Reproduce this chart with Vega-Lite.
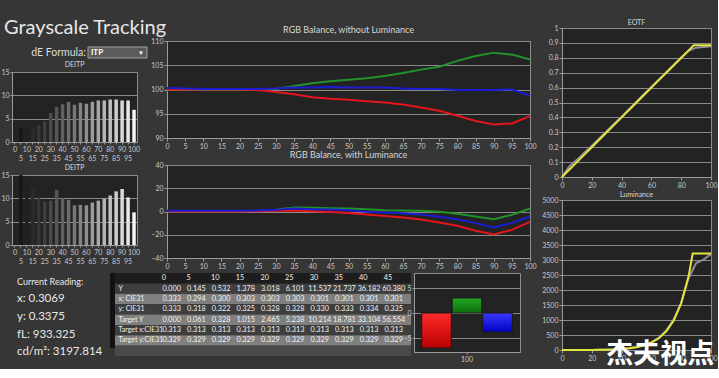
{
"$schema": "https://vega.github.io/schema/vega-lite/v6.json",
"background": "#363636",
"padding": {"left": 0, "top": 0, "right": 0, "bottom": 0},
"config": {
  "font": "Lato",
  "view": {"fill": "#232323", "stroke": "#8c8c8c", "strokeWidth": 1},
  "axis": {"labelColor": "#c8c8c8", "labelFontSize": 7, "labelFont": "Lato", "domainColor": "#9a9a9a", "tickColor": "#9a9a9a", "tickSize": 3, "gridColor": "#8a8a8a", "gridOpacity": 1, "gridWidth": 1, "labelPadding": 1},
  "axisX": {"labelAngle": 0},
  "title": {"color": "#d8d8d8", "fontSize": 8, "fontWeight": "normal", "font": "Lato", "offset": 3},
  "text": {"font": "Lato"}
},
"datasets": {
  "de1": [{"level":0,"de":0},{"level":5,"de":3.0},{"level":10,"de":2.9},{"level":15,"de":2.9},{"level":20,"de":3.6},{"level":25,"de":4.4},{"level":30,"de":6.2},{"level":35,"de":7.5},{"level":40,"de":8.1},{"level":45,"de":8.6},{"level":50,"de":8.0},{"level":55,"de":8.4},{"level":60,"de":8.2},{"level":65,"de":8.6},{"level":70,"de":8.9},{"level":75,"de":8.9},{"level":80,"de":9.1},{"level":85,"de":9.1},{"level":90,"de":8.9},{"level":95,"de":8.9},{"level":100,"de":6.9}],
  "de2": [{"level":0,"de":0},{"level":5,"de":15},{"level":10,"de":14.7},{"level":15,"de":12.1},{"level":20,"de":10.0},{"level":25,"de":9.3},{"level":30,"de":9.5},{"level":35,"de":11.8},{"level":40,"de":10.0},{"level":45,"de":9.7},{"level":50,"de":8.5},{"level":55,"de":8.6},{"level":60,"de":8.5},{"level":65,"de":9.1},{"level":70,"de":9.5},{"level":75,"de":9.9},{"level":80,"de":10.6},{"level":85,"de":11.5},{"level":90,"de":12.0},{"level":95,"de":10.2},{"level":100,"de":7.0}],
  "rgb1": [
    {"level":0,"ch":"G","v":100},{"level":5,"ch":"G","v":100},{"level":10,"ch":"G","v":100},{"level":15,"ch":"G","v":100},{"level":20,"ch":"G","v":100},{"level":25,"ch":"G","v":100},{"level":30,"ch":"G","v":100.1},{"level":35,"ch":"G","v":100.7},{"level":40,"ch":"G","v":101.3},{"level":45,"ch":"G","v":101.7},{"level":50,"ch":"G","v":102.0},{"level":55,"ch":"G","v":102.3},{"level":60,"ch":"G","v":102.8},{"level":65,"ch":"G","v":103.4},{"level":70,"ch":"G","v":104.1},{"level":75,"ch":"G","v":104.7},{"level":80,"ch":"G","v":105.9},{"level":85,"ch":"G","v":106.9},{"level":90,"ch":"G","v":107.6},{"level":95,"ch":"G","v":107.2},{"level":100,"ch":"G","v":106.2},
    {"level":0,"ch":"R","v":100},{"level":5,"ch":"R","v":100},{"level":10,"ch":"R","v":100},{"level":15,"ch":"R","v":100},{"level":20,"ch":"R","v":100},{"level":25,"ch":"R","v":99.9},{"level":30,"ch":"R","v":99.5},{"level":35,"ch":"R","v":99.0},{"level":40,"ch":"R","v":98.4},{"level":45,"ch":"R","v":98.1},{"level":50,"ch":"R","v":97.9},{"level":55,"ch":"R","v":97.6},{"level":60,"ch":"R","v":97.3},{"level":65,"ch":"R","v":96.9},{"level":70,"ch":"R","v":96.3},{"level":75,"ch":"R","v":95.6},{"level":80,"ch":"R","v":94.6},{"level":85,"ch":"R","v":93.5},{"level":90,"ch":"R","v":92.8},{"level":95,"ch":"R","v":93.0},{"level":100,"ch":"R","v":94.5},
    {"level":0,"ch":"B","v":100.3},{"level":5,"ch":"B","v":100.2},{"level":10,"ch":"B","v":100.1},{"level":15,"ch":"B","v":100.1},{"level":20,"ch":"B","v":100.1},{"level":25,"ch":"B","v":100.1},{"level":30,"ch":"B","v":100.2},{"level":35,"ch":"B","v":100.4},{"level":40,"ch":"B","v":100.4},{"level":45,"ch":"B","v":100.5},{"level":50,"ch":"B","v":100.4},{"level":55,"ch":"B","v":100.4},{"level":60,"ch":"B","v":100.4},{"level":65,"ch":"B","v":100.2},{"level":70,"ch":"B","v":100.1},{"level":75,"ch":"B","v":100.1},{"level":80,"ch":"B","v":99.9},{"level":85,"ch":"B","v":99.9},{"level":90,"ch":"B","v":99.9},{"level":95,"ch":"B","v":100.0},{"level":100,"ch":"B","v":98.7}
  ],
  "rgb2": [
    {"level":0,"ch":"G","v":0.3},{"level":5,"ch":"G","v":0.3},{"level":10,"ch":"G","v":0.3},{"level":15,"ch":"G","v":0.3},{"level":20,"ch":"G","v":0.4},{"level":25,"ch":"G","v":0.5},{"level":30,"ch":"G","v":1.5},{"level":35,"ch":"G","v":3.4},{"level":40,"ch":"G","v":3.2},{"level":45,"ch":"G","v":2.9},{"level":50,"ch":"G","v":2.6},{"level":55,"ch":"G","v":2.0},{"level":60,"ch":"G","v":1.1},{"level":65,"ch":"G","v":0.9},{"level":70,"ch":"G","v":0.6},{"level":75,"ch":"G","v":-0.3},{"level":80,"ch":"G","v":-2.0},{"level":85,"ch":"G","v":-4.3},{"level":90,"ch":"G","v":-6.6},{"level":95,"ch":"G","v":-2.9},{"level":100,"ch":"G","v":2.6},
    {"level":0,"ch":"R","v":0},{"level":5,"ch":"R","v":0},{"level":10,"ch":"R","v":0},{"level":15,"ch":"R","v":0},{"level":20,"ch":"R","v":0},{"level":25,"ch":"R","v":0.3},{"level":30,"ch":"R","v":0.6},{"level":35,"ch":"R","v":0.9},{"level":40,"ch":"R","v":0.3},{"level":45,"ch":"R","v":-0.5},{"level":50,"ch":"R","v":-1.3},{"level":55,"ch":"R","v":-2.6},{"level":60,"ch":"R","v":-3.8},{"level":65,"ch":"R","v":-5.2},{"level":70,"ch":"R","v":-6.9},{"level":75,"ch":"R","v":-9.5},{"level":80,"ch":"R","v":-12.3},{"level":85,"ch":"R","v":-16.6},{"level":90,"ch":"R","v":-19.8},{"level":95,"ch":"R","v":-15.8},{"level":100,"ch":"R","v":-8.9},
    {"level":0,"ch":"B","v":0.6},{"level":5,"ch":"B","v":0.6},{"level":10,"ch":"B","v":0.6},{"level":15,"ch":"B","v":0.6},{"level":20,"ch":"B","v":0.6},{"level":25,"ch":"B","v":0.8},{"level":30,"ch":"B","v":1.4},{"level":35,"ch":"B","v":2.6},{"level":40,"ch":"B","v":2.0},{"level":45,"ch":"B","v":1.7},{"level":50,"ch":"B","v":1.1},{"level":55,"ch":"B","v":-0.3},{"level":60,"ch":"B","v":-0.9},{"level":65,"ch":"B","v":-1.4},{"level":70,"ch":"B","v":-2.6},{"level":75,"ch":"B","v":-4.6},{"level":80,"ch":"B","v":-6.6},{"level":85,"ch":"B","v":-10.0},{"level":90,"ch":"B","v":-13.8},{"level":95,"ch":"B","v":-10.0},{"level":100,"ch":"B","v":-4.3}
  ],
  "eotf": [
    {"level":0,"s":"meas","v":0},{"level":5,"s":"meas","v":0.072},{"level":10,"s":"meas","v":0.115},{"level":15,"s":"meas","v":0.163},{"level":20,"s":"meas","v":0.21},{"level":25,"s":"meas","v":0.258},{"level":30,"s":"meas","v":0.307},{"level":35,"s":"meas","v":0.357},{"level":40,"s":"meas","v":0.405},{"level":45,"s":"meas","v":0.455},{"level":50,"s":"meas","v":0.505},{"level":55,"s":"meas","v":0.555},{"level":60,"s":"meas","v":0.605},{"level":65,"s":"meas","v":0.654},{"level":70,"s":"meas","v":0.703},{"level":75,"s":"meas","v":0.752},{"level":80,"s":"meas","v":0.8},{"level":85,"s":"meas","v":0.846},{"level":90,"s":"meas","v":0.868},{"level":95,"s":"meas","v":0.873},{"level":100,"s":"meas","v":0.878},
    {"level":0,"s":"tgt","v":0},{"level":5,"s":"tgt","v":0.05},{"level":10,"s":"tgt","v":0.1},{"level":15,"s":"tgt","v":0.15},{"level":20,"s":"tgt","v":0.2},{"level":25,"s":"tgt","v":0.25},{"level":30,"s":"tgt","v":0.3},{"level":35,"s":"tgt","v":0.35},{"level":40,"s":"tgt","v":0.4},{"level":45,"s":"tgt","v":0.45},{"level":50,"s":"tgt","v":0.5},{"level":55,"s":"tgt","v":0.55},{"level":60,"s":"tgt","v":0.6},{"level":65,"s":"tgt","v":0.65},{"level":70,"s":"tgt","v":0.7},{"level":75,"s":"tgt","v":0.75},{"level":80,"s":"tgt","v":0.8},{"level":85,"s":"tgt","v":0.85},{"level":88.4,"s":"tgt","v":0.884},{"level":90,"s":"tgt","v":0.884},{"level":95,"s":"tgt","v":0.884},{"level":100,"s":"tgt","v":0.884}
  ],
  "lum": [
    {"level":0,"s":"meas","v":0},{"level":5,"s":"meas","v":0.145},{"level":10,"s":"meas","v":0.532},{"level":15,"s":"meas","v":1.378},{"level":20,"s":"meas","v":3.018},{"level":25,"s":"meas","v":6.101},{"level":30,"s":"meas","v":11.537},{"level":35,"s":"meas","v":21.737},{"level":40,"s":"meas","v":36.182},{"level":45,"s":"meas","v":60.38},{"level":50,"s":"meas","v":98},{"level":55,"s":"meas","v":161},{"level":60,"s":"meas","v":258},{"level":65,"s":"meas","v":412},{"level":70,"s":"meas","v":650},{"level":75,"s":"meas","v":1020},{"level":80,"s":"meas","v":1580},{"level":85,"s":"meas","v":2400},{"level":90,"s":"meas","v":2900},{"level":95,"s":"meas","v":3013},{"level":100,"s":"meas","v":3198},
    {"level":0,"s":"tgt","v":0},{"level":5,"s":"tgt","v":0.061},{"level":10,"s":"tgt","v":0.328},{"level":15,"s":"tgt","v":1.015},{"level":20,"s":"tgt","v":2.465},{"level":25,"s":"tgt","v":5.238},{"level":30,"s":"tgt","v":10.214},{"level":35,"s":"tgt","v":18.781},{"level":40,"s":"tgt","v":33.104},{"level":45,"s":"tgt","v":56.554},{"level":50,"s":"tgt","v":92.2},{"level":55,"s":"tgt","v":151},{"level":60,"s":"tgt","v":244},{"level":65,"s":"tgt","v":391},{"level":70,"s":"tgt","v":621},{"level":75,"s":"tgt","v":984},{"level":80,"s":"tgt","v":1557},{"level":85,"s":"tgt","v":2464},{"level":87.7,"s":"tgt","v":3214},{"level":90,"s":"tgt","v":3214},{"level":95,"s":"tgt","v":3214},{"level":100,"s":"tgt","v":3214}
  ],
  "rows": [{"row":"hdr"},{"row":"Y"},{"row":"x: CIE31"},{"row":"y: CIE31"},{"row":"Target Y"},{"row":"Target x:CIE31"},{"row":"Target y:CIE31"},{"row":"scroll"}],
  "hdr": [{"row":"hdr","col":0},{"row":"hdr","col":5},{"row":"hdr","col":10},{"row":"hdr","col":15},{"row":"hdr","col":20},{"row":"hdr","col":25},{"row":"hdr","col":30},{"row":"hdr","col":35},{"row":"hdr","col":40},{"row":"hdr","col":45}],
  "table": [
    {"row":"Y","col":0,"v":0},{"row":"Y","col":5,"v":0.145},{"row":"Y","col":10,"v":0.532},{"row":"Y","col":15,"v":1.378},{"row":"Y","col":20,"v":3.018},{"row":"Y","col":25,"v":6.101},{"row":"Y","col":30,"v":11.537},{"row":"Y","col":35,"v":21.737},{"row":"Y","col":40,"v":36.182},{"row":"Y","col":45,"v":60.38},
    {"row":"x: CIE31","col":0,"v":0.333},{"row":"x: CIE31","col":5,"v":0.294},{"row":"x: CIE31","col":10,"v":0.3},{"row":"x: CIE31","col":15,"v":0.303},{"row":"x: CIE31","col":20,"v":0.303},{"row":"x: CIE31","col":25,"v":0.303},{"row":"x: CIE31","col":30,"v":0.301},{"row":"x: CIE31","col":35,"v":0.301},{"row":"x: CIE31","col":40,"v":0.301},{"row":"x: CIE31","col":45,"v":0.301},
    {"row":"y: CIE31","col":0,"v":0.333},{"row":"y: CIE31","col":5,"v":0.318},{"row":"y: CIE31","col":10,"v":0.322},{"row":"y: CIE31","col":15,"v":0.325},{"row":"y: CIE31","col":20,"v":0.328},{"row":"y: CIE31","col":25,"v":0.328},{"row":"y: CIE31","col":30,"v":0.33},{"row":"y: CIE31","col":35,"v":0.333},{"row":"y: CIE31","col":40,"v":0.334},{"row":"y: CIE31","col":45,"v":0.335},
    {"row":"Target Y","col":0,"v":0},{"row":"Target Y","col":5,"v":0.061},{"row":"Target Y","col":10,"v":0.328},{"row":"Target Y","col":15,"v":1.015},{"row":"Target Y","col":20,"v":2.465},{"row":"Target Y","col":25,"v":5.238},{"row":"Target Y","col":30,"v":10.214},{"row":"Target Y","col":35,"v":18.781},{"row":"Target Y","col":40,"v":33.104},{"row":"Target Y","col":45,"v":56.554},
    {"row":"Target x:CIE31","col":0,"v":0.313},{"row":"Target x:CIE31","col":5,"v":0.313},{"row":"Target x:CIE31","col":10,"v":0.313},{"row":"Target x:CIE31","col":15,"v":0.313},{"row":"Target x:CIE31","col":20,"v":0.313},{"row":"Target x:CIE31","col":25,"v":0.313},{"row":"Target x:CIE31","col":30,"v":0.313},{"row":"Target x:CIE31","col":35,"v":0.313},{"row":"Target x:CIE31","col":40,"v":0.313},{"row":"Target x:CIE31","col":45,"v":0.313},
    {"row":"Target y:CIE31","col":0,"v":0.329},{"row":"Target y:CIE31","col":5,"v":0.329},{"row":"Target y:CIE31","col":10,"v":0.329},{"row":"Target y:CIE31","col":15,"v":0.329},{"row":"Target y:CIE31","col":20,"v":0.329},{"row":"Target y:CIE31","col":25,"v":0.329},{"row":"Target y:CIE31","col":30,"v":0.329},{"row":"Target y:CIE31","col":35,"v":0.329},{"row":"Target y:CIE31","col":40,"v":0.329},{"row":"Target y:CIE31","col":45,"v":0.329}
  ],
  "wm": [{"wm":"杰夫视点"}]
},
"spacing": 4,
"hconcat": [
  {"spacing": 2, "vconcat": [
    {"spacing": -33, "hconcat": [
      {"spacing": 1, "vconcat": [
        {"width": 1, "height": 16, "view": {"fill": null, "stroke": null}, "data": {"values": [{}]}, "mark": {"type": "text", "text": ""}, "encoding": {}},
        {"width": 135, "height": 11,
         "title": {"text": "Grayscale Tracking", "fontSize": 20, "anchor": "start", "dx": -8, "color": "#e6e6e6", "offset": 9},
         "data": {"values": [{"k":"l","t":"dE Formula:"},{"k":"b","t":"ITP"}]},
         "view": {"fill": null, "stroke": null},
         "encoding": {"x": {"field":"k","type":"nominal","title":null,"scale":{"domain":["l","b"],"paddingInner":0,"paddingOuter":0.144,"align":1},"axis":null}},
         "layer": [
           {"transform":[{"filter":"datum.k=='b'"}], "mark":{"type":"rect","fill":"#5b5b5b","stroke":"#a0a0a0","strokeWidth":1}, "encoding": {}},
           {"transform":[{"filter":"datum.k=='l'"}], "mark":{"type":"text","fontSize":10.5,"color":"#dcdcdc"}, "encoding":{"text":{"field":"t"}}},
           {"transform":[{"filter":"datum.k=='b'"}], "mark":{"type":"text","fontSize":8,"color":"#ffffff","align":"left","dx":3,"fontWeight":"bold"}, "encoding":{"x":{"field":"k","type":"nominal","bandPosition":0},"text":{"field":"t"}}},
           {"transform":[{"filter":"datum.k=='b'"}], "mark":{"type":"text","fontSize":6,"color":"#ffffff","align":"right","dx":-3,"text":"▼"}, "encoding":{"x":{"field":"k","type":"nominal","bandPosition":1}}}
         ]},
        {"width": 125, "height": 70,
         "title": {"text": "DEITP", "fontSize": 7, "offset": 0},
         "data": {"name": "de1"},
         "mark": {"type": "bar", "width": {"band": 0.65}},
         "encoding": {
           "x": {"field":"level","type":"ordinal","title":null,"axis":{"labelExpr":"datum.value % 10 == 5 ? ['', datum.label] : datum.label","labelOverlap":false,"labelBound":false,"tickSize":2,"labelLineHeight":9,"labelPadding":1}},
           "y": {"field":"de","type":"quantitative","title":null,"scale":{"domain":[0,15]},"axis":{"values":[0,5,10,15],"grid":true,"tickSize":2}},
           "color": {"field":"level","type":"quantitative","scale":{"domain":[0,100],"range":["#0d0d0d","#f5f5f5"]},"legend":null}
         }},
        {"width": 125, "height": 70,
         "title": {"text": "DEITP", "fontSize": 7, "offset": 0},
         "data": {"name": "de2"},
         "mark": {"type": "bar", "width": {"band": 0.65}},
         "encoding": {
           "x": {"field":"level","type":"ordinal","title":null,"axis":{"labelExpr":"datum.value % 10 == 5 ? ['', datum.label] : datum.label","labelOverlap":false,"labelBound":false,"tickSize":2,"labelLineHeight":9,"labelPadding":1}},
           "y": {"field":"de","type":"quantitative","title":null,"scale":{"domain":[0,15]},"axis":{"values":[0,5,10,15],"grid":true,"tickSize":2}},
           "color": {"field":"level","type":"quantitative","scale":{"domain":[0,100],"range":["#0d0d0d","#f5f5f5"]},"legend":null}
         }}
      ]},
      {"spacing": 0, "vconcat": [
        {"width": 1, "height": 25, "view": {"fill": null, "stroke": null}, "data": {"values": [{}]}, "mark": {"type": "text", "text": ""}, "encoding": {}},
        {"width": 363, "height": 97,
         "title": {"text": "RGB Balance, without Luminance", "fontSize": 9, "offset": 2},
         "data": {"name": "rgb1"},
         "encoding": {
           "x": {"field":"level","type":"quantitative","title":null,"scale":{"domain":[0,100],"nice":false},"axis":{"values":[0,5,10,15,20,25,30,35,40,45,50,55,60,65,70,75,80,85,90,95,100],"labelFlush":false,"grid":false}},
           "y": {"field":"v","type":"quantitative","title":null,"scale":{"domain":[90,110],"nice":false},"axis":{"values":[90,95,100,105,110],"grid":true}}
         },
         "layer": [
           {"transform":[{"filter":"datum.ch=='G'"}],"mark":{"type":"line","color":"#22922a","strokeWidth":2},"encoding":{}},
           {"transform":[{"filter":"datum.ch=='R'"}],"mark":{"type":"line","color":"#e3161b","strokeWidth":2},"encoding":{}},
           {"transform":[{"filter":"datum.ch=='B'"}],"mark":{"type":"line","color":"#1c1cd2","strokeWidth":2},"encoding":{}}
         ]},
        {"width": 363, "height": 93,
         "title": {"text": "RGB Balance, with Luminance", "fontSize": 9, "offset": 1},
         "data": {"name": "rgb2"},
         "encoding": {
           "x": {"field":"level","type":"quantitative","title":null,"scale":{"domain":[0,100],"nice":false},"axis":{"values":[0,5,10,15,20,25,30,35,40,45,50,55,60,65,70,75,80,85,90,95,100],"labelFlush":false,"grid":false}},
           "y": {"field":"v","type":"quantitative","title":null,"scale":{"domain":[-40,40],"nice":false},"axis":{"values":[-40,-20,0,20,40],"grid":true}}
         },
         "layer": [
           {"transform":[{"filter":"datum.ch=='G'"}],"mark":{"type":"line","color":"#22922a","strokeWidth":2},"encoding":{}},
           {"transform":[{"filter":"datum.ch=='R'"}],"mark":{"type":"line","color":"#e3161b","strokeWidth":2},"encoding":{}},
           {"transform":[{"filter":"datum.ch=='B'"}],"mark":{"type":"line","color":"#1c1cd2","strokeWidth":2},"encoding":{}}
         ]}
      ]}
    ]},
    {"spacing": -9, "hconcat": [
      {"spacing": -1, "hconcat": [
        {"width": 98, "height": 88,
         "view": {"fill": null, "stroke": null},
         "data": {"values": [{"i":0,"t":"Current Reading:"},{"i":1,"t":"x: 0.3069"},{"i":2,"t":"y: 0.3375"},{"i":3,"t":"fL: 933.325"},{"i":4,"t":"cd/m²: 3197.814"}]},
         "mark": {"type":"text","align":"left","dx":5,"color":"#e8e8e8"},
         "encoding": {
           "y": {"field":"i","type":"ordinal","axis":null},
           "x": {"datum": 0, "type": "quantitative", "scale": {"domain":[0,1]}, "axis": null},
           "text": {"field":"t"},
           "size": {"condition": {"test":"datum.i==0","value":9},"value":11.5}
         }},
        {"spacing": 0, "hconcat": [
          {"width": 5, "height": 75,
           "view": {"fill": "#121212", "stroke": null},
           "data": {"values": [{"k": "sel"}]},
           "mark": {"type": "rect", "fill": "#121212"},
           "encoding": {}},
          {"width": 296, "height": 83,
           "view": {"fill": "#161616", "stroke": null},
           "encoding": {
             "y": {"field":"row","type":"nominal","title":null,
                   "scale":{"domain":["hdr","Y","x: CIE31","y: CIE31","Target Y","Target x:CIE31","Target y:CIE31","scroll"],"paddingInner":0,"paddingOuter":0},
                   "axis":{"orient":"left","zindex":1,"ticks":false,"tickSize":0,"domain":false,"labelAlign":"left","labelPadding":-3,"labelColor":"#f0f0f0","labelFontSize":7,"labelExpr":"datum.value=='hdr'||datum.value=='scroll' ? '' : datum.label"}}
           },
           "layer": [
             {"data": {"name":"rows"}, "mark": {"type":"rect"},
              "encoding": {"fill": {"field":"row","type":"nominal","scale":{"domain":["hdr","Y","x: CIE31","y: CIE31","Target Y","Target x:CIE31","Target y:CIE31","scroll"],"range":["#1d1d1d","#3e3e3e","#7f7f7f","#3e3e3e","#7f7f7f","#3e3e3e","#7f7f7f","#4a4a4a"]},"legend":null}}},
             {"data": {"name":"table"}, "mark": {"type":"text","align":"center","fontSize":7.3,"color":"#f2f2f2"},
              "encoding": {"x": {"field":"col","type":"ordinal","title":null,"scale":{"domain":[-10,-5,0,5,10,15,20,25,30,35,40,45],"paddingInner":0,"paddingOuter":0.255,"align":0.3},"axis":null},
                           "text": {"field":"v","type":"quantitative","format":".3f"}}},
             {"data": {"name":"hdr"}, "mark": {"type":"text","align":"left","dx":-10,"fontSize":7.3,"color":"#f2f2f2"},
              "encoding": {"x": {"field":"col","type":"ordinal","title":null,"axis":null},
                           "text": {"field":"col","type":"nominal"}}}
           ]}
        ]}
      ]},
      {"width": 106, "height": 79,
       "data": {"values": [{"level":"100","ch":"R","v":-7.0},{"level":"100","ch":"G","v":3.0},{"level":"100","ch":"B","v":-3.8}]},
       "encoding": {
         "x": {"field":"level","type":"nominal","title":null,"scale":{"paddingInner":0,"paddingOuter":0.085},"axis":{"labelAngle":0,"tickSize":2}},
         "xOffset": {"field":"ch","type":"nominal","scale":{"domain":["R","G","B"],"paddingInner":0.03}},
         "y": {"field":"v","type":"quantitative","title":null,"scale":{"domain":[-7.8,8],"nice":false},"axis":{"values":[-5,0,5],"grid":true,"tickSize":2}}
       },
       "layer": [
         {"transform":[{"filter":"datum.ch=='R'"}],"mark":{"type":"bar","stroke":"#1a1a1a","strokeWidth":1,"fill":{"gradient":"linear","x1":0,"y1":0,"x2":0,"y2":1,"stops":[{"offset":0,"color":"#ff2a2a"},{"offset":1,"color":"#b80000"}]}},"encoding":{}},
         {"transform":[{"filter":"datum.ch=='G'"}],"mark":{"type":"bar","stroke":"#1a1a1a","strokeWidth":1,"fill":{"gradient":"linear","x1":0,"y1":0,"x2":0,"y2":1,"stops":[{"offset":0,"color":"#22a522"},{"offset":1,"color":"#0b6e0b"}]}},"encoding":{}},
         {"transform":[{"filter":"datum.ch=='B'"}],"mark":{"type":"bar","stroke":"#1a1a1a","strokeWidth":1,"fill":{"gradient":"linear","x1":0,"y1":0,"x2":0,"y2":1,"stops":[{"offset":0,"color":"#3a3aff"},{"offset":1,"color":"#0000c0"}]}},"encoding":{}}
       ]}
    ]}
  ]},
  {"spacing": 1, "vconcat": [
    {"width": 1, "height": 17, "view": {"fill": null, "stroke": null}, "data": {"values": [{}]}, "mark": {"type": "text", "text": ""}, "encoding": {}},
    {"width": 149, "height": 149,
     "title": {"text": "EOTF", "fontSize": 7, "offset": -2},
     "data": {"name": "eotf"},
     "encoding": {
       "x": {"field":"level","type":"quantitative","title":null,"scale":{"domain":[0,100],"nice":false},"axis":{"values":[0,20,40,60,80,100],"labelFlush":false,"grid":false}},
       "y": {"field":"v","type":"quantitative","title":null,"scale":{"domain":[0,1],"nice":false},"axis":{"values":[0,0.1,0.2,0.3,0.4,0.5,0.6,0.7,0.8,0.9,1],"format":"~g","grid":true}}
     },
     "layer": [
       {"transform":[{"filter":"datum.s=='meas'"}],"mark":{"type":"line","color":"#8e8e98","strokeWidth":2},"encoding":{}},
       {"transform":[{"filter":"datum.s=='tgt'"}],"mark":{"type":"line","color":"#e4e43c","strokeWidth":2},"encoding":{}}
     ]},
    {"width": 149, "height": 150,
     "title": {"text": "Luminance", "fontSize": 7, "offset": -2},
     "layer": [
       {"data": {"name": "lum"}, "transform":[{"filter":"datum.s=='meas'"}],"mark":{"type":"line","color":"#8e8e98","strokeWidth":2},
        "encoding": {
          "x": {"field":"level","type":"quantitative","title":null,"scale":{"domain":[0,100],"nice":false},"axis":{"values":[0,20,40,60,80,100],"labelFlush":false,"grid":false}},
          "y": {"field":"v","type":"quantitative","title":null,"scale":{"domain":[0,5000],"nice":false},"axis":{"values":[0,500,1000,1500,2000,2500,3000,3500,4000,4500,5000],"format":"d","grid":true}}
        }},
       {"data": {"name": "lum"}, "transform":[{"filter":"datum.s=='tgt'"}],"mark":{"type":"line","color":"#e4e43c","strokeWidth":2},
        "encoding": {
          "x": {"field":"level","type":"quantitative","title":null,"axis":{"values":[0,20,40,60,80,100],"labelFlush":false,"grid":false}},
          "y": {"field":"v","type":"quantitative","title":null,"axis":{"values":[0,500,1000,1500,2000,2500,3000,3500,4000,4500,5000],"format":"d","grid":true}}
        }},
       {"data": {"name": "wm"}, "mark": {"type":"text","font":"Noto Sans CJK SC","fontWeight":"bold","fontSize":27,"color":"#ffffff","baseline":"middle","dy":5},
        "encoding": {"x": {"datum": 66, "type": "quantitative", "axis": {"values":[0,20,40,60,80,100],"labelFlush":false,"grid":false}}, "y": {"datum": 0, "type": "quantitative", "axis": {"values":[0,500,1000,1500,2000,2500,3000,3500,4000,4500,5000],"format":"d","grid":true}}, "text": {"field":"wm","type":"nominal"}}}
     ]}
  ]}
]
}
